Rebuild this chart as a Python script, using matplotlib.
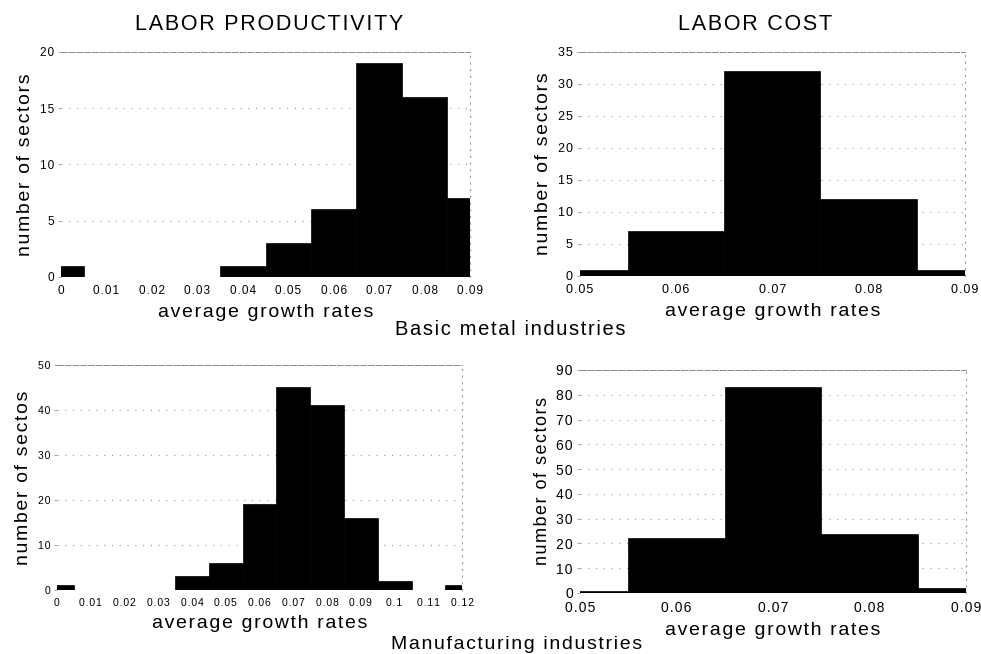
## Growth-rate histograms: labor productivity vs labor cost

import numpy as np
import matplotlib.pyplot as plt

plt.rcParams['font.family'] = ['Liberation Sans', 'DejaVu Sans']

# bin centres (width 0.01) and counts of sectors per bin
metal_prod_bins = [0.0, 0.01, 0.02, 0.03, 0.04, 0.05, 0.06, 0.07, 0.08, 0.09]
metal_prod_counts = [1, 0, 0, 0, 1, 3, 6, 19, 16, 7]
metal_cost_bins = [0.05, 0.06, 0.07, 0.08, 0.09]
metal_cost_counts = [1, 7, 32, 12, 1]

manuf_prod_bins = [0.0, 0.01, 0.02, 0.03, 0.04, 0.05, 0.06, 0.07, 0.08, 0.09, 0.10, 0.11, 0.12]
manuf_prod_counts = [1, 0, 0, 0, 3, 6, 19, 45, 41, 16, 2, 0, 1]
manuf_cost_bins = [0.05, 0.06, 0.07, 0.08, 0.09]
manuf_cost_counts = [1, 22, 83, 24, 2]

metal_prod_xticks = ['0', '0.01', '0.02', '0.03', '0.04', '0.05', '0.06', '0.07', '0.08', '0.09']
manuf_prod_xticks = ['0', '0.01', '0.02', '0.03', '0.04', '0.05', '0.06', '0.07', '0.08', '0.09', '0.1', '0.11', '0.12']
cost_xticks = ['0.05', '0.06', '0.07', '0.08', '0.09']

def spaced(s):
    # wide letter tracking, as in the old typeset figure
    return '\u200a'.join(s)

fig = plt.figure(figsize=(9.81, 6.54), dpi=100)

def hist_panel(rect, bins, counts, xticks, xlim, ylim, ystep, ylabel, tick_fs, ylab_fs):
    ax = fig.add_axes(rect)
    ax.bar(bins, counts, width=0.01, color='black', edgecolor='black', linewidth=0.5, zorder=3)
    ax.set_xlim(*xlim)
    ax.set_ylim(*ylim)
    ax.set_xticks(bins)
    ax.set_xticklabels([spaced(t) for t in xticks], fontsize=tick_fs)
    yt = np.arange(ylim[0], ylim[1] + 1, ystep)
    ax.set_yticks(yt)
    ax.set_yticklabels([spaced(str(v)) for v in yt], fontsize=tick_fs)
    ax.tick_params(axis='x', length=0, pad=6)
    ax.tick_params(axis='y', length=2, width=0.5, color='gray', pad=3)
    ax.grid(axis='y', color='#999999', linestyle=(0, (1, 6)), linewidth=0.8, zorder=0)
    ax.spines['left'].set_visible(False)
    ax.spines['bottom'].set_visible(False)
    ax.spines['top'].set_color('#888888')
    ax.spines['top'].set_linestyle((0, (6, 2)))
    ax.spines['top'].set_linewidth(0.7)
    ax.spines['right'].set_color('#999999')
    ax.spines['right'].set_linestyle((0, (1, 5)))
    ax.spines['right'].set_linewidth(0.8)
    ax.set_xlabel(spaced('average growth rates'), fontsize=14, labelpad=5)
    ax.set_ylabel(spaced(ylabel), fontsize=ylab_fs, labelpad=4)
    return ax

ax1 = hist_panel([0.0622, 0.5765, 0.417, 0.344], metal_prod_bins, metal_prod_counts,
                 metal_prod_xticks, (0, 0.09), (0, 20), 5, 'number of sectors', 8.5, 14)
ax2 = hist_panel([0.591, 0.578, 0.3925, 0.3425], metal_cost_bins, metal_cost_counts,
                 cost_xticks, (0.05, 0.09), (0, 35), 5, 'number of sectors', 9, 14)
ax3 = hist_panel([0.0581, 0.0979, 0.413, 0.344], manuf_prod_bins, manuf_prod_counts,
                 manuf_prod_xticks, (0, 0.12), (0, 50), 10, 'number of sectos', 7.5, 14)
ax4 = hist_panel([0.591, 0.0933, 0.3935, 0.341], manuf_cost_bins, manuf_cost_counts,
                 cost_xticks, (0.05, 0.09), (0, 90), 10, 'number of sectors', 10, 13)

fig.text(0.274, 0.963, spaced('LABOR PRODUCTIVITY'), ha='center', va='center', fontsize=15.5)
fig.text(0.770, 0.963, spaced('LABOR COST'), ha='center', va='center', fontsize=15.5)
fig.text(0.52, 0.496, spaced('Basic metal industries'), ha='center', va='center', fontsize=14.5)
fig.text(0.527, 0.015, spaced('Manufacturing industries'), ha='center', va='center', fontsize=14)

fig.savefig('out.png', dpi=100)
